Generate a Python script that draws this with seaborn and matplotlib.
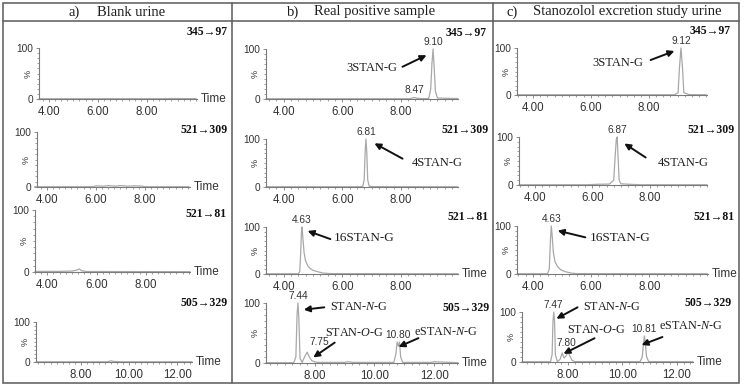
import matplotlib
matplotlib.use("Agg")
import matplotlib.pyplot as plt
import seaborn as sns
from matplotlib.ticker import FixedLocator, MultipleLocator
from matplotlib.patches import Rectangle, FancyArrowPatch
from matplotlib.lines import Line2D

sns.set_theme(style="white")
plt.rcParams["font.family"] = ["Liberation Sans", "DejaVu Sans"]
plt.rcParams["mathtext.fontset"] = "custom"
plt.rcParams["mathtext.rm"] = "Liberation Serif"
plt.rcParams["mathtext.it"] = "Liberation Serif:italic"

# ---------------- data ----------------
column_letters = ["a)", "b)", "c)"]
column_titles = ["Blank urine", "Real positive sample", "Stanozolol excretion study urine"]
transitions = ["345→97", "521→309", "521→81", "505→329"]
ticks_upper = [4.0, 6.0, 8.0]
ticks_lower = [8.0, 10.0, 12.0]

# a) blank urine
a1_time = [3.6, 5.0, 7.0, 8.5, 9.0, 9.4, 10.0]
a1_int = [0.5, 0.5, 0.6, 0.5, 1.0, 0.8, 0.6]
a2_time = [3.5, 5.9, 6.0, 6.3, 6.5, 6.8, 7.0, 7.3, 7.6, 7.9, 8.0, 9.8]
a2_int = [0.5, 0.5, 2.0, 1.5, 2.5, 1.5, 2.5, 1.5, 2.0, 1.5, 0.5, 0.5]
a3_time = [3.5, 4.5, 5.0, 5.2, 5.3, 5.4, 5.6, 9.8]
a3_int = [1.0, 1.0, 1.5, 3.0, 5.0, 2.0, 0.8, 0.5]
a4_time = [6.15, 9.1, 9.25, 9.35, 9.5, 9.7, 12.6]
a4_int = [0.5, 0.5, 3.0, 1.5, 1.0, 0.5, 0.5]

# b) real positive sample
b1_time = [3.4, 8.3, 8.4, 8.47, 8.55, 8.7, 8.95, 9.02, 9.06, 9.10, 9.14, 9.18, 9.25, 9.5, 9.95]
b1_int = [0.5, 0.5, 2.0, 3.0, 1.5, 0.8, 0.8, 20, 70, 100, 60, 15, 2.0, 1.5, 0.8]
b2_time = [3.4, 6.5, 6.7, 6.75, 6.78, 6.81, 6.84, 6.87, 6.92, 7.1, 9.95]
b2_int = [0.5, 0.6, 1.0, 15, 70, 100, 70, 15, 1.5, 0.8, 0.5]
b3_time = [3.4, 4.5, 4.55, 4.58, 4.61, 4.63, 4.66, 4.70, 4.75, 4.82, 4.9, 5.0, 5.15, 5.35, 5.6, 9.95]
b3_int = [0.5, 0.5, 5, 40, 90, 100, 75, 45, 28, 18, 12, 8, 5, 2, 0.8, 0.5]
b4_time = [6.37, 7.3, 7.37, 7.41, 7.44, 7.47, 7.51, 7.58, 7.68, 7.75, 7.82, 7.9, 8.0, 8.1,
           9.0, 9.1, 9.3, 10.65, 10.72, 10.76, 10.80, 10.84, 10.88, 10.95, 11.9, 12.0, 12.8]
b4_int = [0.5, 0.5, 10, 80, 100, 75, 8, 1, 12, 18, 10, 4, 2, 1,
          1, 2, 1, 1, 15, 35, 28, 35, 10, 1, 1, 2, 0.5]

# c) excretion study urine
c1_time = [3.45, 8.9, 9.02, 9.07, 9.12, 9.17, 9.22, 9.4, 10.0]
c1_int = [0.5, 0.5, 5, 60, 100, 60, 5, 0.8, 0.5]
c2_time = [3.45, 5.8, 6.2, 6.6, 6.75, 6.8, 6.84, 6.87, 6.9, 6.94, 7.0, 7.3, 7.7, 10.0]
c2_int = [0.5, 0.5, 1.5, 2.0, 10, 60, 95, 100, 60, 10, 2.5, 1.5, 0.5, 0.5]
c3_time = [3.45, 4.5, 4.56, 4.6, 4.63, 4.66, 4.7, 4.76, 4.85, 4.95, 5.1, 5.3, 5.5, 10.0]
c3_int = [0.5, 0.5, 10, 70, 100, 80, 45, 25, 15, 9, 5, 2, 0.8, 0.5]
c4_time = [6.3, 7.35, 7.41, 7.44, 7.47, 7.5, 7.53, 7.6, 7.7, 7.78, 7.85, 7.92, 8.0, 8.08, 8.15, 8.25,
           10.65, 10.73, 10.78, 10.81, 10.84, 10.89, 10.97, 12.6]
c4_int = [0.5, 0.5, 15, 80, 100, 80, 15, 1, 5, 18, 8, 12, 20, 10, 3, 0.8,
          0.8, 10, 40, 52, 40, 10, 0.8, 0.5]

traces = {
    (0, 0): (a1_time, a1_int), (0, 1): (a2_time, a2_int), (0, 2): (a3_time, a3_int), (0, 3): (a4_time, a4_int),
    (1, 0): (b1_time, b1_int), (1, 1): (b2_time, b2_int), (1, 2): (b3_time, b3_int), (1, 3): (b4_time, b4_int),
    (2, 0): (c1_time, c1_int), (2, 1): (c2_time, c2_int), (2, 2): (c3_time, c3_int), (2, 3): (c4_time, c4_int),
}

# retention-time labels: (text, time, intensity)
rt_labels = {
    (1, 0): [("9.10", 9.10, 100), ("8.47", 8.47, 3)],
    (1, 1): [("6.81", 6.81, 100)],
    (1, 2): [("4.63", 4.63, 100)],
    (1, 3): [("7.44", 7.44, 100), ("7.75", 7.75, 18), ("10.80", 10.80, 35)],
    (2, 0): [("9.12", 9.12, 100)],
    (2, 1): [("6.87", 6.87, 100)],
    (2, 2): [("4.63", 4.63, 100)],
    (2, 3): [("7.47", 7.47, 100), ("7.80", 7.80, 20), ("10.81", 10.81, 52)],
}

# compound names
names = ["3STAN-G", "4STAN-G", "16STAN-G", "STAN-$\\mathit{N}$-G", "STAN-$\\mathit{O}$-G", "eSTAN-$\\mathit{N}$-G"]

# ---------------- layout (pixels) ----------------
W, H = 744, 387
fig = plt.figure(figsize=(W / 100, H / 100), dpi=100)

def fx(p):
    return p / W

def fy(p):
    return 1 - p / H

# (left, right, top, bottom) px, xlim
layout = {
    (0, 0): ((39, 197, 48, 99), (3.6, 10.04)),
    (0, 1): ((37, 190, 132, 187), (3.6, 9.84)),
    (0, 2): ((35, 190, 210, 272), (3.5, 9.8)),
    (0, 3): ((36, 192, 322, 362), (6.15, 12.6)),
    (1, 0): ((266, 458, 49, 99), (3.4, 9.95)),
    (1, 1): ((266, 458, 139, 187), (3.4, 9.95)),
    (1, 2): ((266, 458, 227, 274), (3.4, 9.95)),
    (1, 3): ((266, 458, 303, 363), (6.37, 12.8)),
    (2, 0): ((517, 707, 48, 95), (3.45, 10.02)),
    (2, 1): ((519, 707, 137, 185), (3.45, 10.0)),
    (2, 2): ((517, 708, 226, 274), (3.45, 10.02)),
    (2, 3): ((522, 693, 312, 362), (6.3, 12.6)),
}
show_time = {(0, 0), (0, 1), (0, 2), (0, 3), (1, 2), (1, 3), (2, 2), (2, 3)}
trans_pos = {
    0: [(228, 32), (228, 130), (227, 214), (228, 303)],
    1: [(487, 33), (489, 130), (489, 217), (490, 308)],
    2: [(731, 31), (735, 130), (735, 217), (732, 303)],
}
rt_nudge = {"7.75": (9, 4), "7.80": (3, 3)}

AX_COL = "#7a7a7a"
TXT_COL = "#333333"
TRACE_COL = "#a8a8a8"
SERIF = ["Liberation Serif", "DejaVu Serif"]

for (col, row), ((l, r, t, b), xl) in layout.items():
    ax = fig.add_axes([fx(l), fy(b), (r - l) / W, (b - t) / H])
    ax.set_facecolor("none")
    tt, ii = traces[(col, row)]
    sns.lineplot(x=tt, y=ii, ax=ax, color=TRACE_COL, lw=0.9, estimator=None, sort=False)
    for ln in ax.lines:
        ln.set_clip_on(False)
    ax.set_xlim(*xl)
    ax.set_ylim(0, 100)
    for s in ["top", "right"]:
        ax.spines[s].set_visible(False)
    for s in ["left", "bottom"]:
        ax.spines[s].set_color(AX_COL)
        ax.spines[s].set_linewidth(0.8)
    tk = ticks_lower if row == 3 else ticks_upper
    ax.xaxis.set_major_locator(FixedLocator(tk))
    ax.set_xticklabels([f"{v:.2f}" for v in tk])
    ax.xaxis.set_minor_locator(MultipleLocator(0.25))
    ax.yaxis.set_major_locator(FixedLocator([0, 100]))
    ax.set_yticklabels(["0", "100"])
    ax.yaxis.set_minor_locator(MultipleLocator(10))
    ax.tick_params(axis="both", which="major", direction="out", length=2.5, width=0.6,
                   color=AX_COL, labelcolor=TXT_COL, bottom=True, left=True)
    ax.tick_params(axis="both", which="minor", direction="out", length=1.5, width=0.5,
                   color=AX_COL, bottom=True, left=True)
    ax.tick_params(axis="x", labelsize=8.3, pad=2.5)
    ax.tick_params(axis="y", labelsize=7.3, pad=1.5)
    ax.set_xlabel("")
    ax.set_ylabel("%", fontsize=6.5, color=TXT_COL, rotation=90)
    ax.yaxis.set_label_coords(-6 / (r - l), 0.5)
    if (col, row) in show_time:
        fig.text(fx(r + 4), fy(b), "Time", fontsize=8.5, color=TXT_COL, ha="left", va="center")
    tx, ty = trans_pos[col][row]
    fig.text(fx(tx), fy(ty), transitions[row], fontsize=8.5, fontweight="bold", family=SERIF,
             color="#111111", ha="right", va="center")
    for txt, rt, h in rt_labels.get((col, row), []):
        off = rt_nudge.get(txt, (0, 1.5))
        ax.annotate(txt, xy=(rt, h), xytext=off, textcoords="offset points",
                    ha="center", va="bottom", fontsize=7.3, color=TXT_COL, annotation_clip=False)

# compound name labels and arrows (figure pixels)
name_items = [
    # text, center, arrow tail, arrow tip
    (names[0], (372, 68), (400, 68), (429, 54)),
    (names[1], (437, 163), (405, 160), (372, 142)),
    (names[2], (364, 238), (333, 240), (305, 230)),
    (names[3], (359, 307), (327, 307), (301, 310)),
    (names[4], (354, 333), (337, 341), (311, 359)),
    (names[5], (446, 332), (421, 337), (396, 348)),
    (names[0], (618, 63), (648, 61), (677, 50)),
    (names[1], (683, 163), (648, 159), (622, 142)),
    (names[2], (620, 238), (588, 238), (555, 230)),
    (names[3], (612, 307), (580, 306), (554, 320)),
    (names[4], (596, 330), (597, 337), (561, 355)),
    (names[5], (691, 326), (665, 336), (639, 346)),
]
fs_names = [9, 9, 9.5, 8.7, 8.7, 8.7, 9, 9, 9.5, 8.7, 8.7, 8.7]
for (txt, (cx, cy), (x0, y0), (x1, y1)), fs in zip(name_items, fs_names):
    fig.text(fx(cx), fy(cy), txt, fontsize=fs, family=SERIF, color="#1e1e1e", ha="center", va="center")
    fig.add_artist(FancyArrowPatch(
        (fx(x0), fy(y0)), (fx(x1), fy(y1)), transform=fig.transFigure,
        arrowstyle="-|>", mutation_scale=9, lw=1.4, color="#111111"))

# header titles
hdr_letter_x = [74, 293, 512]
hdr_title_x = [97, 314, 533]
for k in range(3):
    fig.text(fx(hdr_letter_x[k]), fy(12), column_letters[k], fontsize=10.5, family=SERIF,
             color="#1e1e1e", ha="center", va="center")
    fig.text(fx(hdr_title_x[k]), fy(12), column_titles[k], fontsize=10.5, family=SERIF,
             color="#1e1e1e", ha="left", va="center")

# frame lines
frame_col = "#5a5a5a"
fig.add_artist(Rectangle((fx(3), fy(383)), fx(739) - fx(3), fy(3) - fy(383),
                         transform=fig.transFigure, fill=False, ec=frame_col, lw=1.1))
fig.add_artist(Line2D([fx(3), fx(739)], [fy(21), fy(21)], transform=fig.transFigure, color=frame_col, lw=1.1))
for xv in [232, 493]:
    fig.add_artist(Line2D([fx(xv), fx(xv)], [fy(3), fy(383)], transform=fig.transFigure, color=frame_col, lw=1.1))

fig.savefig("out.png", dpi=100)
